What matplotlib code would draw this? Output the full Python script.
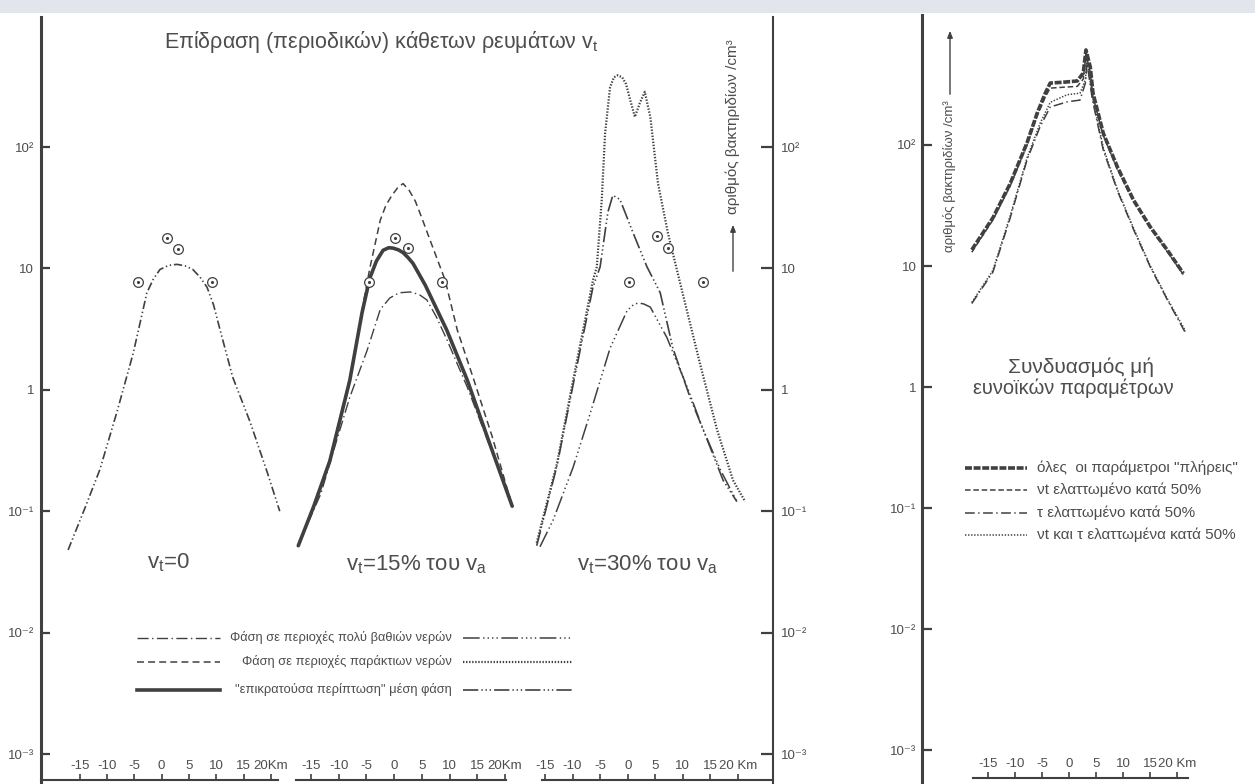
import matplotlib
matplotlib.use("Agg")
import matplotlib.pyplot as plt
from matplotlib.lines import Line2D
from matplotlib.patches import Rectangle, FancyArrowPatch
from matplotlib.ticker import NullLocator

# ---- data: x in km, y in bacteria / cm3 ----
decade_values = [1e-3, 1e-2, 1e-1, 1, 10, 100]
decade_labels = ["10⁻³", "10⁻²", "10⁻¹", "1", "10", "10²"]
km_ticks = [-15, -10, -5, 0, 5, 10, 15, 20]
km_labels_a = ["-15", "-10", "-5", "0", "5", "10", "15", "20Km"]
km_labels_b = ["-15", "-10", "-5", "0", "5", "10", "15", "20 Km"]

# v_t = 0
km_vt0 = [-17.1, -14.0, -11.3, -8.2, -5.2, -2.7, -1.5, -0.3, 1.3, 2.8, 4.3, 5.7, 7.0, 8.3, 9.5, 10.7, 13.0, 16.2, 19.3, 21.6]
val_vt0 = [0.048, 0.107, 0.22, 0.65, 2.0, 6.3, 8.2, 9.8, 10.6, 10.8, 10.5, 9.8, 8.5, 7.0, 5.0, 3.1, 1.27, 0.54, 0.21, 0.10]
obs_km_vt0 = [-4.3, 1.0, 3.0, 9.2]
obs_val_vt0 = [7.7, 17.8, 14.5, 7.7]

# v_t = 15% of v_a
km_deep15 = [-17.0, -13.2, -11.6, -8.0, -4.9, -2.5, -0.8, 0.9, 2.9, 4.5, 5.9, 7.6, 9.5, 13.2, 17.3, 20.9]
val_deep15 = [0.057, 0.14, 0.25, 0.87, 2.1, 4.6, 5.7, 6.3, 6.4, 6.1, 5.5, 4.0, 2.6, 1.05, 0.34, 0.13]
km_coast15 = [-17.3, -13.5, -11.6, -8.0, -5.8, -4.4, -2.5, -1.5, -0.4, 0.6, 1.6, 2.7, 3.8, 5.0, 6.5, 9.2, 11.4, 14.4, 17.7, 21.3]
val_coast15 = [0.052, 0.15, 0.27, 1.25, 4.5, 10, 25, 33, 40, 46, 50, 44, 36, 26, 17, 8.0, 3.1, 1.2, 0.41, 0.11]
km_mean15 = [-17.3, -14.5, -11.6, -8.0, -5.8, -4.4, -3.2, -2.0, -1.0, -0.2, 0.8, 1.6, 2.5, 3.4, 5.6, 9.5, 13.2, 16.8, 21.3]
val_mean15 = [0.052, 0.11, 0.26, 1.2, 4.3, 8.3, 11.5, 14.1, 14.8, 14.7, 14.2, 13.5, 12.3, 11.0, 7.3, 3.1, 1.2, 0.41, 0.11]
obs_km_15 = [-4.5, 0.2, 2.5, 8.6]
obs_val_15 = [7.7, 17.8, 14.8, 7.7]

# v_t = 30% of v_a
km_coast30 = [-16.5, -12.8, -9.9, -6.3, -5.6, -4.7, -4.1, -3.2, -2.5, -1.8, -1.0, -0.3, 0.5, 1.3, 2.2, 3.1, 4.1, 5.5, 7.3, 9.5, 13.1, 16.2, 19.1, 21.3]
val_coast30 = [0.055, 0.25, 1.2, 8.0, 10.3, 37, 130, 310, 375, 390, 375, 330, 240, 177, 230, 285, 177, 50, 19.5, 7.6, 1.65, 0.47, 0.18, 0.12]
km_mean30 = [-16.5, -12.8, -9.9, -6.3, -5.0, -3.6, -2.7, -1.4, 1.0, 3.5, 5.9, 8.2, 11.3, 14.4, 17.3, 19.8]
val_mean30 = [0.052, 0.24, 1.1, 7.0, 10.3, 29, 40, 37, 19.5, 10.3, 6.3, 2.2, 0.87, 0.39, 0.18, 0.12]
km_deep30 = [-15.9, -13.5, -9.9, -6.8, -3.2, -0.1, 1.0, 1.9, 2.9, 4.1, 7.1, 10.8, 13.7, 16.8, 19.8]
val_deep30 = [0.051, 0.085, 0.23, 0.64, 2.2, 4.5, 5.0, 5.2, 5.1, 4.8, 2.7, 1.05, 0.47, 0.22, 0.12]
obs_km_30 = [0.2, 5.3, 7.3, 13.7]
obs_val_30 = [7.7, 18.5, 14.8, 7.7]

# combination of unfavourable parameters
km_full = [-18.0, -14.1, -10.9, -7.8, -5.9, -4.4, -3.5, -1.1, 1.5, 2.6, 3.1, 3.9, 4.4, 6.3, 8.9, 11.9, 15.0, 18.1, 21.1]
val_full = [13.6, 25, 48, 104, 184, 269, 325, 330, 338, 393, 610, 440, 269, 125, 66, 35, 21, 13.6, 8.7]
val_vt_half = [13.0, 24, 46, 100, 175, 250, 295, 300, 305, 350, 560, 400, 250, 120, 63, 34, 20.5, 13.2, 8.5]
km_tau = [-18.0, -14.1, -10.9, -7.8, -5.4, -3.5, -0.4, 2.0, 3.0, 3.3, 4.3, 6.3, 8.9, 11.9, 15.0, 18.1, 21.5]
val_tau_half = [4.9, 8.9, 25, 75, 141, 206, 227, 235, 325, 475, 235, 91, 42, 20, 9.8, 5.3, 2.8]
val_both_half = [5.0, 9.2, 26, 78, 150, 225, 260, 268, 345, 500, 250, 95, 43, 20.5, 10, 5.4, 2.9]

legend_left = ["Φάση σε περιοχές πολύ βαθιών νερών",
               "Φάση σε περιοχές παράκτιων νερών",
               '"επικρατούσα περίπτωση" μέση φάση']
legend_right = ['όλες  οι παράμετροι "πλήρεις"',
                "νt ελαττωμένο κατά 50%",
                "τ ελαττωμένο κατά 50%",
                "νt και τ ελαττωμένα κατά 50%"]

plt.rcParams["font.family"] = ["Liberation Sans", "DejaVu Sans"]
plt.rcParams["mathtext.default"] = "regular"
plt.rcParams["lines.scale_dashes"] = False

INK = "#404040"
TXT = "#4d4d4d"
W, H = 1255, 784

# line styles (dash patterns in points)
st_vt0 = dict(lw=1.2, dashes=(6, 2, 1, 2, 1, 2))
st_deep15 = dict(lw=1.0, dashes=(8, 2.5, 1, 2.5))
st_coast15 = dict(lw=1.1, dashes=(5, 3))
st_mean15 = dict(lw=2.6, linestyle="-")
st_deep30 = dict(lw=1.1, dashes=(12, 2.5, 1, 2.2, 1, 2.2, 1, 2.2, 1, 2.5))
st_coast30 = dict(lw=1.6, dashes=(1, 1.2))
st_mean30 = dict(lw=1.2, dashes=(11, 2.2, 1, 2, 1, 2, 1, 2.2))
st_full = dict(lw=2.6, dashes=(5, 1.2))
st_vt_half = dict(lw=1.1, dashes=(4, 2))
st_tau_half = dict(lw=1.1, dashes=(7, 2.5, 1, 2.5))
st_both_half = dict(lw=1.1, dashes=(1, 1.2))

fig = plt.figure(figsize=(W / 100, H / 100), dpi=100)
fig.patch.set_facecolor("white")
# greyish strip along the top edge of the sheet
fig.add_artist(Rectangle((0, 1 - 13 / H), 1, 13 / H, transform=fig.transFigure,
                         facecolor="#e2e5ec", edgecolor="none"))


def px_axes(left, right, top, bottom):
    ax = fig.add_axes([left / W, 1 - bottom / H, (right - left) / W, (bottom - top) / H])
    ax.patch.set_alpha(0)
    ax.set_yscale("log")
    ax.yaxis.set_minor_locator(NullLocator())
    for s in ax.spines.values():
        s.set_visible(False)
        s.set_color(INK)
    return ax


def km_axis(ax, labels, lift):
    ax.spines["bottom"].set_visible(True)
    ax.spines["bottom"].set_linewidth(1.5)
    ax.spines["bottom"].set_position(("outward", -lift))
    ax.set_xticks(km_ticks, labels=labels)
    ax.tick_params(axis="x", direction="in", length=4, width=1.2, color=INK,
                   pad=-14.5, labelsize=9.5, labelcolor=TXT)


def observations(ax, km, val):
    ax.plot(km, val, "o", ms=7, mfc="white", mec=INK, mew=0.9, clip_on=False, zorder=3)
    ax.plot(km, val, ".", ms=2.5, color=INK, clip_on=False, zorder=4)


ylim_left = (10 ** -3.247, 10 ** 3.071)

# panel 1: v_t = 0
ax1 = px_axes(41, 278, 17, 784)
ax1.set_xlim(-22.06, 21.28)
ax1.set_ylim(*ylim_left)
km_axis(ax1, km_labels_a, 2.9)
ax1.spines["left"].set_visible(True)
ax1.spines["left"].set_linewidth(2.2)
ax1.set_yticks(decade_values, labels=decade_labels)
ax1.tick_params(axis="y", direction="in", length=6.5, width=1.6, color=INK,
                pad=5, labelsize=9.5, labelcolor=TXT)
ax1.plot(km_vt0, val_vt0, color=INK, clip_on=False, **st_vt0)
observations(ax1, obs_km_vt0, obs_val_vt0)

# panel 2: v_t = 15% of v_a
ax2 = px_axes(296, 506, 17, 784)
ax2.set_xlim(-17.71, 20.18)
ax2.set_ylim(*ylim_left)
km_axis(ax2, km_labels_a, 2.9)
ax2.set_yticks([])
ax2.plot(km_deep15, val_deep15, color=INK, clip_on=False, **st_deep15)
ax2.plot(km_coast15, val_coast15, color=INK, clip_on=False, **st_coast15)
ax2.plot(km_mean15, val_mean15, color=INK, clip_on=False, solid_capstyle="round",
         solid_joinstyle="round", **st_mean15)
observations(ax2, obs_km_15, obs_val_15)

# panel 3: v_t = 30% of v_a, with the shared scale on its right side
ax3 = px_axes(542, 773, 17, 784)
ax3.set_xlim(-15.54, 26.35)
ax3.set_ylim(*ylim_left)
km_axis(ax3, km_labels_b, 2.9)
ax3.spines["right"].set_visible(True)
ax3.spines["right"].set_linewidth(1.5)
ax3.yaxis.tick_right()
ax3.set_yticks(decade_values, labels=decade_labels)
ax3.tick_params(axis="y", direction="in", length=9, width=1.6, color=INK,
                pad=6, labelsize=9.5, labelcolor=TXT)
ax3.plot(km_coast30, val_coast30, color=INK, clip_on=False, **st_coast30)
ax3.plot(km_mean30, val_mean30, color=INK, clip_on=False, **st_mean30)
ax3.plot(km_deep30, val_deep30, color=INK, clip_on=False, **st_deep30)
observations(ax3, obs_km_30, obs_val_30)

# panel 4: combination of unfavourable parameters
ax4 = px_axes(922, 1188, 15, 784)
ax4.set_xlim(-27.2, 21.96)
ax4.set_ylim(10 ** -3.28, 10 ** 3.074)
km_axis(ax4, km_labels_b, 4.3)
ax4.spines["bottom"].set_bounds(-17.8, 21.96)
ax4.spines["left"].set_visible(True)
ax4.spines["left"].set_linewidth(2.2)
ax4.set_yticks(decade_values, labels=decade_labels)
ax4.tick_params(axis="y", direction="in", length=7, width=1.6, color=INK,
                pad=4, labelsize=9.5, labelcolor=TXT)
ax4.plot(km_tau, val_tau_half, color=INK, clip_on=False, **st_tau_half)
ax4.plot(km_tau, val_both_half, color=INK, clip_on=False, **st_both_half)
ax4.plot(km_full, val_vt_half, color=INK, clip_on=False, **st_vt_half)
ax4.plot(km_full, val_full, color=INK, clip_on=False, **st_full)


def ftext(x, y, s, **kw):
    kw.setdefault("color", TXT)
    fig.text(x / W, 1 - y / H, s, **kw)


def fline(x0, x1, y, style):
    fig.add_artist(Line2D([x0 / W, x1 / W], [1 - y / H, 1 - y / H],
                          transform=fig.transFigure, color=INK, **style))


def farrow(x, y_tail, y_head):
    fig.add_artist(FancyArrowPatch(
        (x / W, 1 - y_tail / H), (x / W, 1 - y_head / H), transform=fig.transFigure,
        arrowstyle="-|>,head_length=4,head_width=1.6", color=INK, lw=1.0))


ftext(381, 42, "Επίδραση (περιοδικών) κάθετων ρευμάτων v$_t$", fontsize=15.5,
      ha="center", va="center")
ftext(168, 563, "v$_t$=0", fontsize=16, ha="center", va="center")
ftext(417, 565, "v$_t$=15% του v$_a$", fontsize=16, ha="center", va="center")
ftext(648, 565, "v$_t$=30% του v$_a$", fontsize=16, ha="center", va="center")

# y-axis captions with arrows
ftext(733, 127, "αριθμός βακτηριδίων /cm³", fontsize=11, rotation=90, ha="center", va="center")
farrow(733, 274, 222)
ftext(950, 176, "αριθμός βακτηριδίων /cm³", fontsize=9.5, rotation=90, ha="center", va="center")
farrow(950, 97, 28)

# key for the three v_t panels
rows_left = [638, 662, 690]
for y, txt, st_a, st_b in zip(rows_left, legend_left,
                              [st_deep15, st_coast15, st_mean15],
                              [st_deep30, st_coast30, st_mean30]):
    fline(137, 220, y, st_a)
    fline(463, 572, y, st_b)
    ftext(452, y, txt, fontsize=9.3, ha="right", va="center")

# right panel caption and key
ftext(1081, 367, "Συνδυασμός μή", fontsize=15, ha="center", va="center")
ftext(1073, 388, "ευνοϊκών παραμέτρων", fontsize=14.5, ha="center", va="center")
rows_right = [468, 490, 513, 535]
for y, txt, st in zip(rows_right, legend_right,
                      [st_full, st_vt_half, st_tau_half, st_both_half]):
    fline(965, 1027, y, st)
    ftext(1037, y, txt, fontsize=11, ha="left", va="center")

fig.savefig("out.png", dpi=100)
